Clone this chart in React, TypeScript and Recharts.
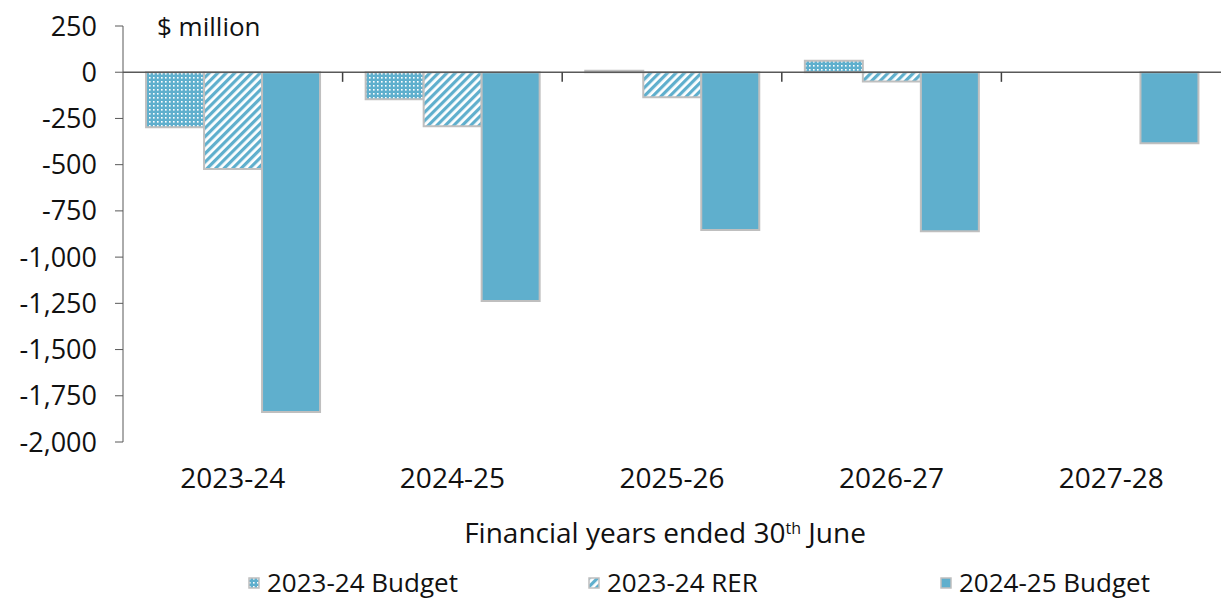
import React from "react";
import { BarChart, Bar, XAxis, YAxis, ReferenceLine } from "recharts";

const categories = ["2023-24", "2024-25", "2025-26", "2026-27", "2027-28"];
const budget2324: (number | null)[] = [-297, -146, 8, 62, null];
const rer2324: (number | null)[] = [-524, -292, -135, -50, null];
const budget2425: number[] = [-1838, -1238, -854, -860, -384];
const yTicks = [250, 0, -250, -500, -750, -1000, -1250, -1500, -1750, -2000];
const seriesNames = ["2023-24 Budget", "2023-24 RER", "2024-25 Budget"];
const boundaryPositions = [1, 2, 3, 4];

const data = categories.map((c, i) => ({
  cat: c,
  idx: i + 0.5,
  b1: budget2324[i],
  b2: rer2324[i],
  b3: budget2425[i],
}));

const BLUE = "#5FAFCD";
const EDGE = "#BFBFBF";
const FONT = "'Century Gothic', 'Open Sans', sans-serif";

const fmt = (v: number) => v.toLocaleString("en-US");

const Patterns = ({ suffix = "" }: { suffix?: string }) => (
  <defs>
    <pattern id={"dots" + suffix} width="4" height="4" patternUnits="userSpaceOnUse">
      <rect width="4" height="4" fill={BLUE} />
      <rect x="1" y="1" width="1.6" height="1.6" fill="#ffffff" />
    </pattern>
    <pattern
      id={"stripes" + suffix}
      width="6"
      height="6"
      patternUnits="userSpaceOnUse"
      patternTransform="rotate(45)"
    >
      <rect width="6" height="6" fill="#ffffff" />
      <rect width="3.2" height="6" fill={BLUE} />
    </pattern>
  </defs>
);

const legendFills = ["url(#dotsL)", "url(#stripesL)", BLUE];
const legendLefts = [248, 588, 940];

export default function App() {
  return (
    <div
      style={{
        position: "absolute",
        left: 0,
        top: 0,
        width: 1221,
        height: 601,
        background: "#fff",
        overflow: "hidden",
      }}
    >
      <BarChart
        width={1221}
        height={601}
        data={data}
        margin={{ top: 26, right: 0, left: 0, bottom: 0 }}
        barGap={0}
        barCategoryGap="10.5%"
      >
        <Patterns />
        <YAxis
          width={123}
          domain={[-2000, 250]}
          ticks={yTicks}
          interval={0}
          allowDataOverflow
          tickFormatter={fmt}
          tickSize={8}
          tickMargin={18}
          axisLine={{ stroke: "#595959", strokeWidth: 1 }}
          tickLine={{ stroke: "#595959", strokeWidth: 1 }}
          tick={{ fill: "#111", fontSize: 27, fontFamily: FONT }}
        />
        <XAxis
          dataKey="cat"
          height={159}
          axisLine={false}
          tickLine={false}
          tickSize={0}
          tickMargin={26}
          interval={0}
          tick={{ fill: "#111", fontSize: 28, fontFamily: FONT }}
        />
        <XAxis
          xAxisId="num"
          dataKey="idx"
          type="number"
          domain={[0, 5]}
          hide
          allowDataOverflow
        />
        <Bar dataKey="b1" name={seriesNames[0]} fill="url(#dots)" stroke={EDGE} strokeWidth={2} isAnimationActive={false} />
        <Bar dataKey="b2" name={seriesNames[1]} fill="url(#stripes)" stroke={EDGE} strokeWidth={2} isAnimationActive={false} />
        <Bar dataKey="b3" name={seriesNames[2]} fill={BLUE} stroke={EDGE} strokeWidth={2} isAnimationActive={false} />
        <ReferenceLine y={0} stroke="#595959" strokeWidth={1.5} />
        {boundaryPositions.map((p) => (
          <ReferenceLine
            key={p}
            xAxisId="num"
            segment={[
              { x: p, y: 0 },
              { x: p, y: -52 },
            ]}
            stroke="#404040"
            strokeWidth={1.5}
          />
        ))}
      </BarChart>
      <div
        style={{
          position: "absolute",
          left: 157,
          top: 9,
          fontFamily: FONT,
          fontSize: 26,
          lineHeight: "34px",
          color: "#111",
          whiteSpace: "nowrap",
        }}
      >
        $ million
      </div>
      <div
        style={{
          position: "absolute",
          left: 0,
          width: 1330,
          top: 514,
          textAlign: "center",
          fontFamily: FONT,
          fontSize: 28,
          lineHeight: "36px",
          color: "#111",
          whiteSpace: "nowrap",
        }}
      >
        Financial years ended 30<sup style={{ fontSize: 16, verticalAlign: "9px", lineHeight: 0 }}>th</sup> June
      </div>
      <svg width="0" height="0" style={{ position: "absolute" }}>
        <Patterns suffix="L" />
      </svg>
      {seriesNames.map((n, i) => (
        <div
          key={n}
          style={{
            position: "absolute",
            left: legendLefts[i],
            top: 564,
            height: 36,
            display: "flex",
            alignItems: "center",
            fontFamily: FONT,
            fontSize: 26,
            lineHeight: "36px",
            color: "#111",
            whiteSpace: "nowrap",
          }}
        >
          <svg width="12" height="12" style={{ marginRight: 7, marginTop: 2 }}>
            <rect x="1" y="1" width="10" height="10" fill={legendFills[i]} stroke={EDGE} strokeWidth={1.5} />
          </svg>
          {n}
        </div>
      ))}
    </div>
  );
}
